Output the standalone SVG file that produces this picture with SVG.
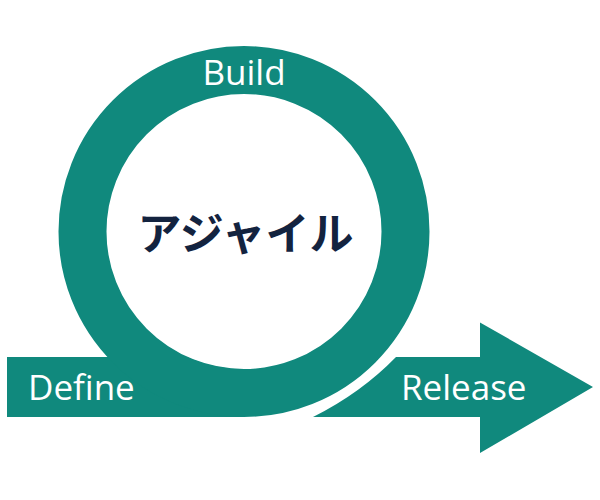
<svg xmlns="http://www.w3.org/2000/svg" width="600" height="500" viewBox="0 0 600 500">
  <style>
    .teal { fill: #10897d; }
    .lbl { font-family: "Open Sans", "Noto Sans", "Liberation Sans", sans-serif; font-size: 35px; fill: #ffffff; }
    .title { font-family: "Noto Sans CJK JP", "Noto Sans", sans-serif; font-size: 44px; font-weight: 700; fill: #13233f; }
  </style>
  <rect width="600" height="500" fill="#ffffff"/>
  <g id="release">
    <path class="teal" d="M396,357 L480,357 L480,322.5 L593,387 L480,453 L480,417 L313,417 Q361,393 396,357 Z"/>
    <text class="lbl" x="401" y="400">Release</text>
  </g>
  <g id="define">
    <rect class="teal" x="7" y="357" width="237" height="60"/>
    <text class="lbl" x="28" y="400">Define</text>
  </g>
  <g id="build">
    <circle cx="244" cy="231.5" r="138" fill="#ffffff"/>
    <circle cx="244" cy="231.5" r="161.5" fill="none" stroke="#10897d" stroke-width="48"/>
    <text class="lbl" x="244" y="85" text-anchor="middle">Build</text>
  </g>
  <g id="agile">
    <text class="title" x="245.5" y="250" text-anchor="middle">アジャイル</text>
  </g>
</svg>
